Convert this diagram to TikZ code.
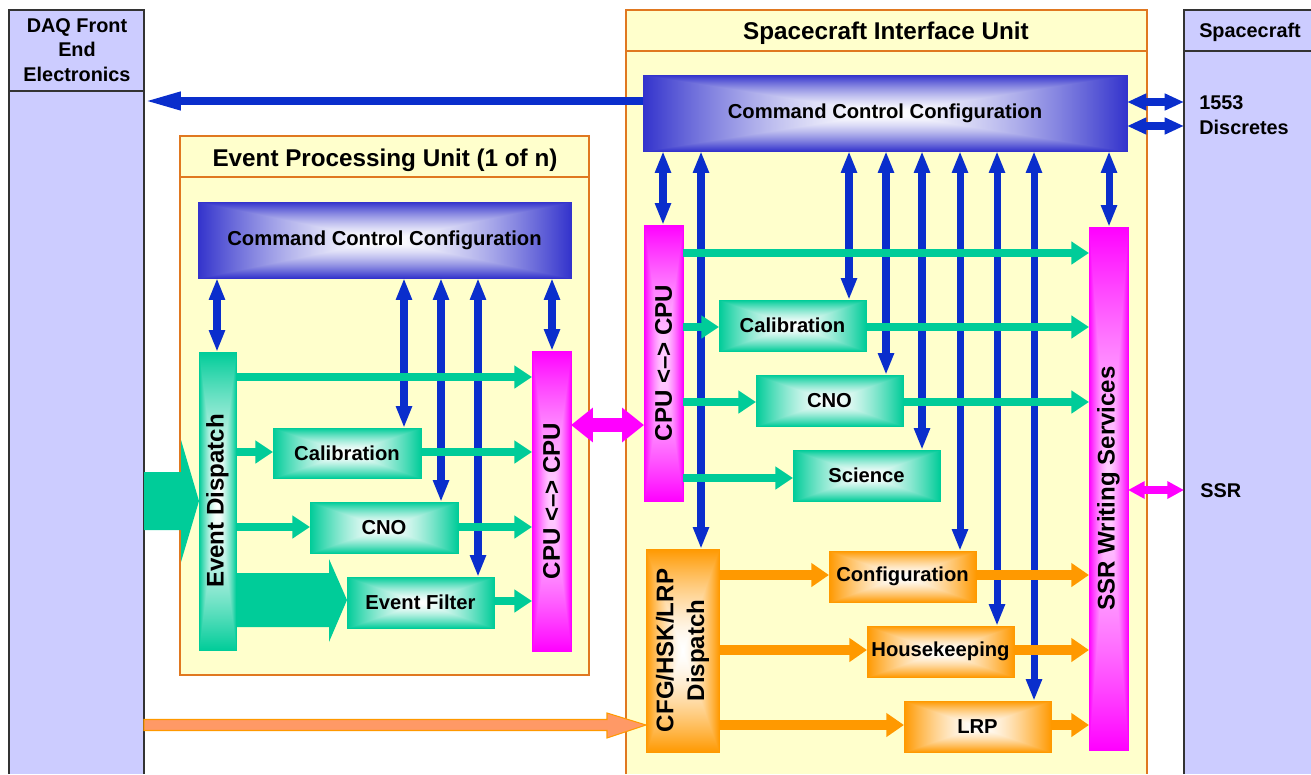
\documentclass[tikz,border=0pt]{standalone}
\usepackage{fontspec}
\setmainfont{Liberation Sans}
\usetikzlibrary{arrows.meta,fit,calc}
\definecolor{daqfill}{HTML}{CCCCFF}
\definecolor{daqline}{HTML}{333333}
\definecolor{unitfill}{HTML}{FFFFCC}
\definecolor{unitline}{HTML}{E07820}
\definecolor{arrblue}{HTML}{0A2ECC}
\definecolor{cccblue}{HTML}{3333CC}
\definecolor{grn}{HTML}{00CC99}
\definecolor{mag}{HTML}{FF00FF}
\definecolor{org}{HTML}{FF9900}
\definecolor{lorg}{HTML}{FF9966}
% rectangular "from centre" gradient: #1 name, then (diff, centre) for r, g, b
\newcommand\rectshade[7]{%
  \pgfdeclarefunctionalshading{#1}{\pgfpoint{-50bp}{-50bp}}{\pgfpoint{50bp}{50bp}}{}{%
    abs exch abs 2 copy lt {exch} if pop 25 div dup 1 gt {pop 1} if
    dup sqrt mul
    dup #2 mul #3 add exch dup #4 mul #5 add exch #6 mul #7 add}}
\rectshade{cccrect}{-0.8}{1}{-0.8}{1}{-0.2}{1}
\rectshade{grnrect}{-1}{1}{-0.2}{1}{-0.4}{1}
\rectshade{magrect}{0}{1}{-0.82}{0.82}{0}{1}
\rectshade{orgrect}{0}{1}{-0.4}{1}{-1}{1}
\tikzset{
  bt/.tip={Triangle[length=12.5pt,width=8.5pt]},
  dt/.tip={Triangle[length=21pt,width=9.5pt]},
  qt/.tip={Triangle[length=11pt,width=9pt]},
  gt/.tip={Triangle[length=10pt,width=12.5pt]},
  ot/.tip={Triangle[length=10pt,width=13pt]},
  mt/.tip={Triangle[length=12.5pt,width=19pt]},
  st/.tip={Triangle[length=9.5pt,width=9.5pt]},
  bluev/.style={draw=arrblue, line width=4pt, arrows={bt-bt}},
  bluedaq/.style={draw=arrblue, line width=4.3pt, arrows={-dt}},
  blueq/.style={draw=arrblue, line width=4.3pt, arrows={qt-qt}},
  garr/.style={draw=grn, line width=5pt, arrows={-gt}},
  oarr/.style={draw=org, line width=5.7pt, arrows={-ot}},
  marr/.style={draw=mag, line width=8pt, arrows={mt-mt}},
  sarr/.style={draw=mag, line width=4pt, arrows={st-st}},
  box/.style={inner sep=0pt, outer sep=0pt, draw=#1, line width=0.5pt},
  cccbox/.style={box=cccblue, shade, shading=cccrect},
  grnbox/.style={box=grn, shade, shading=grnrect},
  magbox/.style={box=mag, shade, shading=magrect},
  orgbox/.style={box=org, shade, shading=orgrect},
  boxtext/.style={inner sep=0pt, font=\bfseries\fontsize{11.5}{13.8}\selectfont},
  bartext/.style={rotate=90, inner sep=0pt, align=center,
    font=\bfseries\fontsize{13.7}{17.5}\selectfont},
  title/.style={inner sep=0pt, font=\bfseries\fontsize{13.8}{16}\selectfont},
  side/.style={inner sep=0pt, align=center, font=\bfseries\fontsize{11.3}{13.9}\selectfont},
  sidel/.style={inner sep=0pt, anchor=west, font=\bfseries\fontsize{11.3}{13.9}\selectfont},
  area/.style={inner sep=0pt, outer sep=0pt},
}
\begin{document}
\begin{tikzpicture}[x=0.02cm, y=-0.02cm]
\useasboundingbox (0,0) rectangle (1311,774);
% ---------- containers ----------
\node[area, fill=daqfill, fit={(9,10)(144,774)}] (daq) {};
\draw[daqline, line width=0.9pt] (9,774) -- (9,10) -- (144,10) -- (144,774) (9,91) -- (144,91);
\node[area, fill=daqfill, fit={(1184,10)(1311,774)}] (sc) {};
\draw[daqline, line width=0.9pt] (1184,774) -- (1184,10) -- (1311,10) (1184,51) -- (1311,51);
\node[area, fill=unitfill, fit={(626,10)(1147,774)}] (siu) {};
\draw[unitline, line width=0.9pt] (626,774) -- (626,10) -- (1147,10) -- (1147,774) (626,51) -- (1147,51);
\node[area, fill=unitfill, draw=unitline, line width=0.9pt, fit={(180,136)(589,675)}] (epu) {};
\draw[unitline, line width=0.9pt] (180,177) -- (589,177);
\node[side] (daqt) at (77,50) {DAQ Front\\End\\Electronics};
\node[side] (sct) at (1250,32) {Spacecraft};
\node[title] (siut) at (886,33) {Spacecraft Interface Unit};
\node[title] (eput) at (385,160) {Event Processing Unit (1 of n)};
% ---------- EPU blocks ----------
\node[cccbox, fit={(198,202)(571,278)}] (eccc) {};
\node[boxtext] (eccct) at (eccc.center) {Command Control Configuration};
\node[grnbox, fit={(199,352)(236,650)}] (ed) {};
\node[bartext] (edt) at (ed.center) {Event Dispatch};
\node[magbox, fit={(532,351)(571,651)}] (ecpu) {};
\node[bartext] (ecput) at (ecpu.center) {CPU <–> CPU};
\node[grnbox, fit={(273,428)(421,478)}] (ecal) {};
\node[boxtext] (ecalt) at (ecal.center) {Calibration};
\node[grnbox, fit={(310,502)(458,553)}] (ecno) {};
\node[boxtext] (ecnot) at (ecno.center) {CNO};
\node[grnbox, fit={(347,577)(494,628)}] (efil) {};
\node[boxtext] (efilt) at (efil.center) {Event Filter};
% ---------- SIU blocks ----------
\node[cccbox, fit={(643,75)(1127,151)}] (sccc) {};
\node[boxtext] (sccct) at (sccc.center) {Command Control Configuration};
\node[magbox, fit={(644,225)(683,501)}] (scpu) {};
\node[bartext] (scput) at (scpu.center) {CPU <–> CPU};
\node[grnbox, fit={(719,300)(866,351)}] (scal) {};
\node[boxtext] (scalt) at (scal.center) {Calibration};
\node[grnbox, fit={(756,375)(903,426)}] (scno) {};
\node[boxtext] (scnot) at (scno.center) {CNO};
\node[grnbox, fit={(793,450)(940,501)}] (ssci) {};
\node[boxtext] (sscit) at (ssci.center) {Science};
\node[orgbox, fit={(646,549)(719,752)}] (cfg) {};
\node[bartext] (cfgt) at (cfg.center) {CFG/HSK/LRP\\Dispatch};
\node[orgbox, fit={(829,551)(976,602)}] (conf) {};
\node[boxtext] (conft) at (conf.center) {Configuration};
\node[orgbox, fit={(867,626)(1014,677)}] (hk) {};
\node[boxtext] (hkt) at (hk.center) {Housekeeping};
\node[orgbox, fit={(904,701)(1051,752)}] (lrp) {};
\node[boxtext] (lrpt) at (lrp.center) {LRP};
\node[magbox, fit={(1089,227)(1128,750)}] (ssr) {};
\node[bartext] (ssrt) at (ssr.center) {SSR Writing Services};
% ---------- external labels ----------
\node[sidel] (l1553) at (1199,103) {1553};
\node[sidel] (ldisc) at (1199,127) {Discretes};
\node[sidel] (lssr) at (1200,491) {SSR};
% ---------- blue control arrows ----------
\foreach \x/\t in {217/ed, 404/ecal, 441/ecno, 478/efil, 552/ecpu}
  \draw[bluev] (eccc.south -| \x,0) -- (\t.north -| \x,0);
\foreach \x/\t in {663/scpu, 701/cfg, 849/scal, 886/scno, 922/ssci, 960/conf, 997/hk, 1034/lrp, 1109/ssr}
  \draw[bluev] (sccc.south -| \x,0) -- (\t.north -| \x,0);
\draw[bluedaq] (sccc.west |- 0,101) -- (daq.east |- 0,101);
\draw[blueq] (sccc.east |- 0,102) -- (sc.west |- 0,102);
\draw[blueq] (sccc.east |- 0,126) -- (sc.west |- 0,126);
% ---------- EPU data arrows ----------
\draw[garr] (ed.east |- 0,377) -- (ecpu.west |- 0,377);
\draw[garr] (ed.east |- 0,452) -- (ecal.west |- 0,452);
\draw[garr] (ecal.east |- 0,452) -- (ecpu.west |- 0,452);
\draw[garr] (ed.east |- 0,527) -- (ecno.west |- 0,527);
\draw[garr] (ecno.east |- 0,527) -- (ecpu.west |- 0,527);
\draw[garr] (efil.east |- 0,601) -- (ecpu.west |- 0,601);
\fill[grn] (daq.east |- 0,472) -- (181,472) -- (181,440) -- (ed.west |- 0,501)
  -- (181,562) -- (181,530) -- (daq.east |- 0,530) -- cycle;
\fill[grn] (ed.east |- 0,573) -- (329,573) -- (329,559) -- (efil.west |- 0,600)
  -- (329,642) -- (329,627) -- (ed.east |- 0,627) -- cycle;
\draw[marr] (ecpu.east |- 0,425) -- (scpu.west |- 0,425);
% ---------- SIU data arrows ----------
\draw[garr] (scpu.east |- 0,253) -- (ssr.west |- 0,253);
\draw[garr] (scpu.east |- 0,327) -- (scal.west |- 0,327);
\draw[garr] (scal.east |- 0,327) -- (ssr.west |- 0,327);
\draw[garr] (scpu.east |- 0,402) -- (scno.west |- 0,402);
\draw[garr] (scno.east |- 0,402) -- (ssr.west |- 0,402);
\draw[garr] (scpu.east |- 0,478) -- (ssci.west |- 0,478);
\draw[oarr] (cfg.east |- 0,575) -- (conf.west |- 0,575);
\draw[oarr] (conf.east |- 0,575) -- (ssr.west |- 0,575);
\draw[oarr] (cfg.east |- 0,650) -- (hk.west |- 0,650);
\draw[oarr] (hk.east |- 0,650) -- (ssr.west |- 0,650);
\draw[oarr] (cfg.east |- 0,725) -- (lrp.west |- 0,725);
\draw[oarr] (lrp.east |- 0,725) -- (ssr.west |- 0,725);
\filldraw[fill=lorg, draw=org, line width=0.6pt] (daq.east |- 0,719.5) -- (607,719.5) -- (607,713)
  -- (cfg.west |- 0,725) -- (607,738) -- (607,730.5) -- (daq.east |- 0,730.5) -- cycle;
\draw[sarr] (ssr.east |- 0,490) -- (sc.west |- 0,490);
\end{tikzpicture}
\end{document}
